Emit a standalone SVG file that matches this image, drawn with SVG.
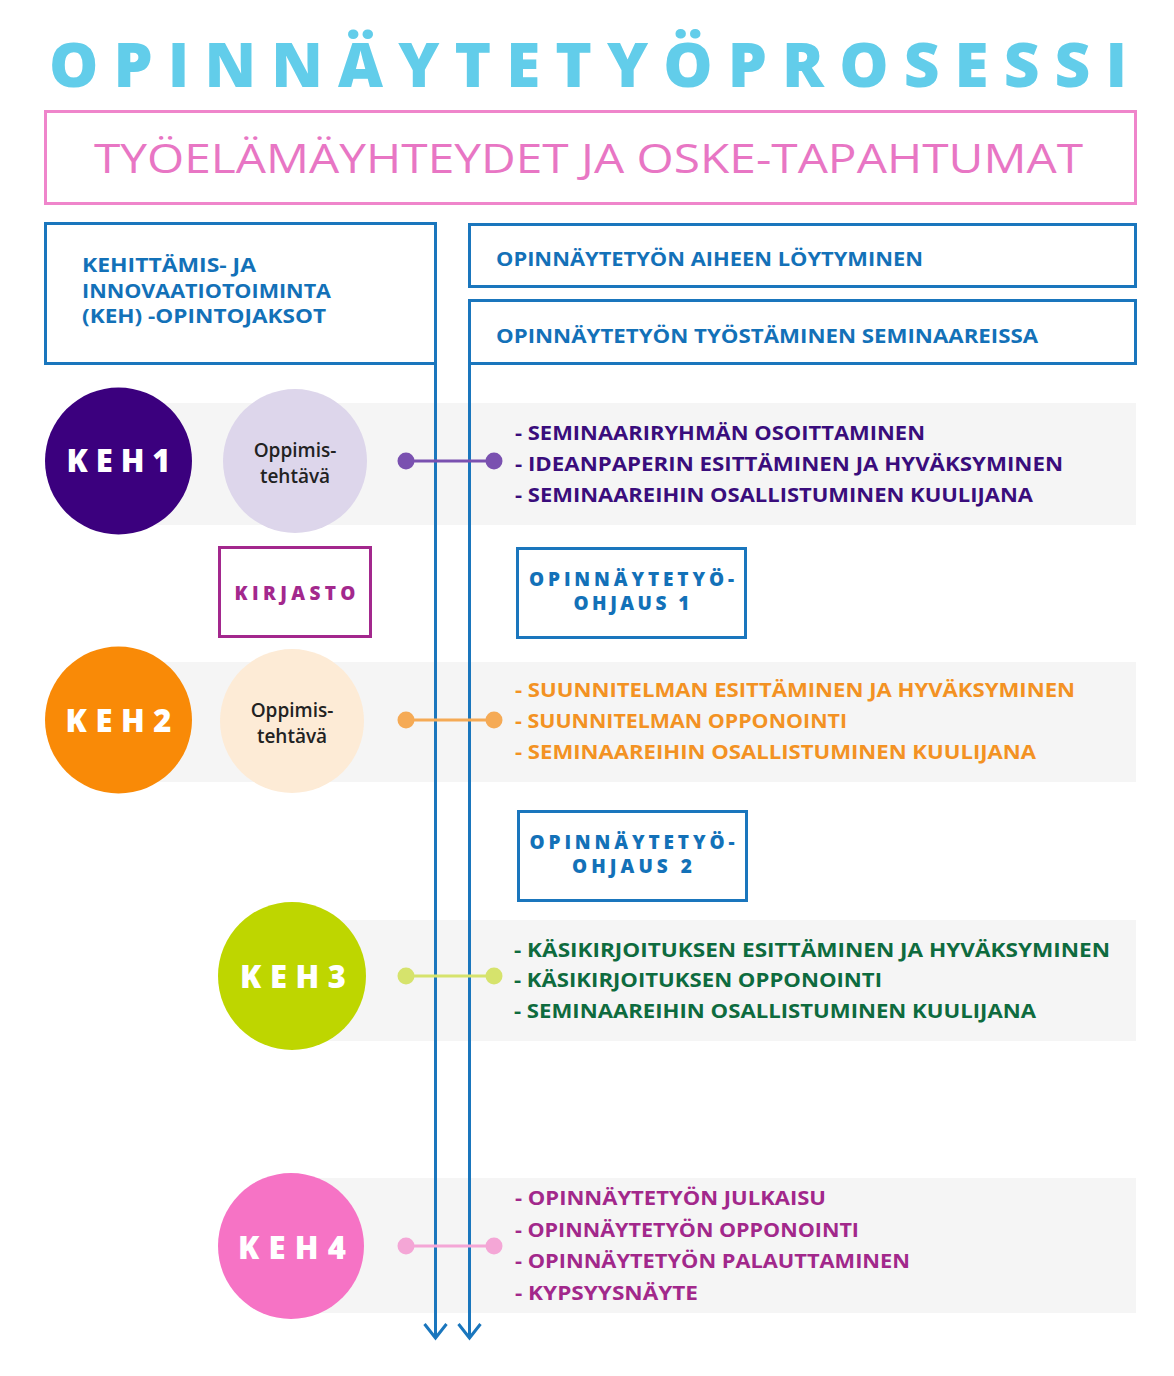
<svg xmlns="http://www.w3.org/2000/svg" width="1174" height="1376" viewBox="0 0 1174 1376">
<defs>
<style>
.title{font-family:"Open Sans","Liberation Sans",sans-serif;font-weight:800;font-size:62px;fill:#62cdea}
.sub{font-family:"Open Sans","Liberation Sans",sans-serif;font-weight:400;font-size:40px;fill:#e876c4}
.box{fill:#fff;stroke:#1a76bd;stroke-width:3}
.hd{font-family:"Open Sans","Liberation Sans",sans-serif;font-weight:700;font-size:19px;fill:#1371b8}
.band{fill:#f5f5f5}
.keh{font-family:"Open Sans","Liberation Sans",sans-serif;font-weight:800;font-size:31px;fill:#fff;text-anchor:middle}
.opp{font-family:"Open Sans","Liberation Sans",sans-serif;font-weight:600;font-size:19px;fill:#222;text-anchor:middle}
.item{font-family:"Open Sans","Liberation Sans",sans-serif;font-weight:700;font-size:19px}
.lbl{font-family:"Open Sans","Liberation Sans",sans-serif;font-weight:800;font-size:19px;text-anchor:middle}
.vline{stroke:#1a76bd;stroke-width:3;fill:none}
.conn{stroke-width:3;fill:none}
</style>
<marker id="arr" markerUnits="userSpaceOnUse" orient="auto" viewBox="-17 -14 20 28" markerWidth="20" markerHeight="28" refX="0" refY="0">
<path d="M-14,-11 L0,0 L-14,11" fill="none" stroke="#1a76bd" stroke-width="3"/>
</marker>
</defs>
<rect width="1174" height="1376" fill="#fff"/>

<g id="title">
<text class="title" x="49" y="87" textLength="1078" lengthAdjust="spacing">OPINNÄYTETYÖPROSESSI</text>
</g>

<g id="tyoelama">
<rect x="45.5" y="111.5" width="1090" height="92" fill="#fff" stroke="#ef85cb" stroke-width="3"/>
<text class="sub" x="94" y="173" textLength="989" lengthAdjust="spacingAndGlyphs">TYÖELÄMÄYHTEYDET JA OSKE-TAPAHTUMAT</text>
</g>

<g id="bands">
<rect class="band" x="118" y="403" width="1018" height="122"/>
<rect class="band" x="118" y="662" width="1018" height="120"/>
<rect class="band" x="292" y="920" width="844" height="121"/>
<rect class="band" x="292" y="1178" width="844" height="135"/>
</g>

<g id="keh-box">
<rect class="box" x="45.5" y="223.5" width="390" height="140"/>
<text class="hd" x="82" y="272" textLength="174" lengthAdjust="spacingAndGlyphs">KEHITTÄMIS- JA</text>
<text class="hd" x="82" y="298" textLength="249" lengthAdjust="spacingAndGlyphs">INNOVAATIOTOIMINTA</text>
<text class="hd" x="82" y="323" textLength="244" lengthAdjust="spacingAndGlyphs">(KEH) -OPINTOJAKSOT</text>
</g>

<g id="aihe-box">
<rect class="box" x="469.5" y="224.5" width="666" height="62"/>
<text class="hd" x="496" y="266" textLength="427" lengthAdjust="spacingAndGlyphs">OPINNÄYTETYÖN AIHEEN LÖYTYMINEN</text>
</g>

<g id="seminaari-box">
<rect class="box" x="469.5" y="300.5" width="666" height="63"/>
<text class="hd" x="496" y="343" textLength="542" lengthAdjust="spacingAndGlyphs">OPINNÄYTETYÖN TYÖSTÄMINEN SEMINAAREISSA</text>
</g>

<g id="connectors">
<line class="vline" x1="435.5" y1="363" x2="435.5" y2="1338" marker-end="url(#arr)"/>
<line class="vline" x1="469.5" y1="363" x2="469.5" y2="1338" marker-end="url(#arr)"/>
<g stroke="#7a51b0" fill="#7a51b0">
<line class="conn" x1="406" y1="461" x2="494" y2="461"/>
<circle cx="406" cy="461" r="8.5" stroke="none"/>
<circle cx="494" cy="461" r="8.5" stroke="none"/>
</g>
<g stroke="#f5aa55" fill="#f5aa55">
<line class="conn" x1="406" y1="720" x2="494" y2="720"/>
<circle cx="406" cy="720" r="8.5" stroke="none"/>
<circle cx="494" cy="720" r="8.5" stroke="none"/>
</g>
<g stroke="#d6e36c" fill="#d6e36c">
<line class="conn" x1="406" y1="976" x2="494" y2="976"/>
<circle cx="406" cy="976" r="8.5" stroke="none"/>
<circle cx="494" cy="976" r="8.5" stroke="none"/>
</g>
<g stroke="#f4a6d6" fill="#f4a6d6">
<line class="conn" x1="406" y1="1246" x2="494" y2="1246"/>
<circle cx="406" cy="1246" r="8.5" stroke="none"/>
<circle cx="494" cy="1246" r="8.5" stroke="none"/>
</g>
</g>

<g id="keh1">
<circle cx="118.5" cy="461" r="73.5" fill="#3b007e"/>
<text class="keh" x="118.5" y="472" textLength="104" lengthAdjust="spacing">KEH1</text>
</g>
<g id="oppimis1">
<circle cx="295" cy="461" r="72" fill="#ddd6eb"/>
<text class="opp" x="295" y="457">Oppimis-</text>
<text class="opp" x="295" y="483">tehtävä</text>
</g>
<g id="rivi1" class="item" fill="#3a0d7c">
<text x="515" y="440" textLength="410" lengthAdjust="spacingAndGlyphs">- SEMINAARIRYHMÄN OSOITTAMINEN</text>
<text x="515" y="471" textLength="548" lengthAdjust="spacingAndGlyphs">- IDEANPAPERIN ESITTÄMINEN JA HYVÄKSYMINEN</text>
<text x="515" y="502" textLength="518" lengthAdjust="spacingAndGlyphs">- SEMINAAREIHIN OSALLISTUMINEN KUULIJANA</text>
</g>

<g id="kirjasto">
<rect x="219.5" y="547.5" width="151" height="89" fill="#fff" stroke="#a3288d" stroke-width="3"/>
<text class="lbl" x="295" y="600" fill="#a3288d" textLength="121" lengthAdjust="spacing">KIRJASTO</text>
</g>
<g id="ohjaus1">
<rect class="box" x="517.5" y="548.5" width="228" height="89"/>
<text class="lbl" x="631.5" y="586" fill="#1371b8" textLength="205" lengthAdjust="spacing">OPINNÄYTETYÖ-</text>
<text class="lbl" x="631.5" y="610" fill="#1371b8" textLength="116" lengthAdjust="spacing">OHJAUS 1</text>
</g>

<g id="keh2">
<circle cx="118.5" cy="720" r="73.5" fill="#f98a07"/>
<text class="keh" x="118.5" y="732" textLength="106" lengthAdjust="spacing">KEH2</text>
</g>
<g id="oppimis2">
<circle cx="292" cy="721" r="72" fill="#fdebd6"/>
<text class="opp" x="292" y="717">Oppimis-</text>
<text class="opp" x="292" y="743">tehtävä</text>
</g>
<g id="rivi2" class="item" fill="#f39223">
<text x="515" y="697" textLength="560" lengthAdjust="spacingAndGlyphs">- SUUNNITELMAN ESITTÄMINEN JA HYVÄKSYMINEN</text>
<text x="515" y="728" textLength="332" lengthAdjust="spacingAndGlyphs">- SUUNNITELMAN OPPONOINTI</text>
<text x="515" y="759" textLength="521" lengthAdjust="spacingAndGlyphs">- SEMINAAREIHIN OSALLISTUMINEN KUULIJANA</text>
</g>

<g id="ohjaus2">
<rect class="box" x="518.5" y="811.5" width="228" height="89"/>
<text class="lbl" x="632" y="849" fill="#1371b8" textLength="205" lengthAdjust="spacing">OPINNÄYTETYÖ-</text>
<text class="lbl" x="632" y="873" fill="#1371b8" textLength="120" lengthAdjust="spacing">OHJAUS 2</text>
</g>

<g id="keh3">
<circle cx="292" cy="976" r="74" fill="#bed600"/>
<text class="keh" x="293" y="988" textLength="106" lengthAdjust="spacing">KEH3</text>
</g>
<g id="rivi3" class="item" fill="#0e6b3e">
<text x="514" y="957" textLength="596" lengthAdjust="spacingAndGlyphs">- KÄSIKIRJOITUKSEN ESITTÄMINEN JA HYVÄKSYMINEN</text>
<text x="514" y="987" textLength="368" lengthAdjust="spacingAndGlyphs">- KÄSIKIRJOITUKSEN OPPONOINTI</text>
<text x="514" y="1018" textLength="522" lengthAdjust="spacingAndGlyphs">- SEMINAAREIHIN OSALLISTUMINEN KUULIJANA</text>
</g>

<g id="keh4">
<circle cx="291" cy="1246" r="73" fill="#f673c5"/>
<text class="keh" x="292" y="1259" textLength="108" lengthAdjust="spacing">KEH4</text>
</g>
<g id="rivi4" class="item" fill="#a2288b">
<text x="515" y="1205" textLength="311" lengthAdjust="spacingAndGlyphs">- OPINNÄYTETYÖN JULKAISU</text>
<text x="515" y="1237" textLength="344" lengthAdjust="spacingAndGlyphs">- OPINNÄYTETYÖN OPPONOINTI</text>
<text x="515" y="1268" textLength="395" lengthAdjust="spacingAndGlyphs">- OPINNÄYTETYÖN PALAUTTAMINEN</text>
<text x="515" y="1300" textLength="183" lengthAdjust="spacingAndGlyphs">- KYPSYYSNÄYTE</text>
</g>
</svg>
